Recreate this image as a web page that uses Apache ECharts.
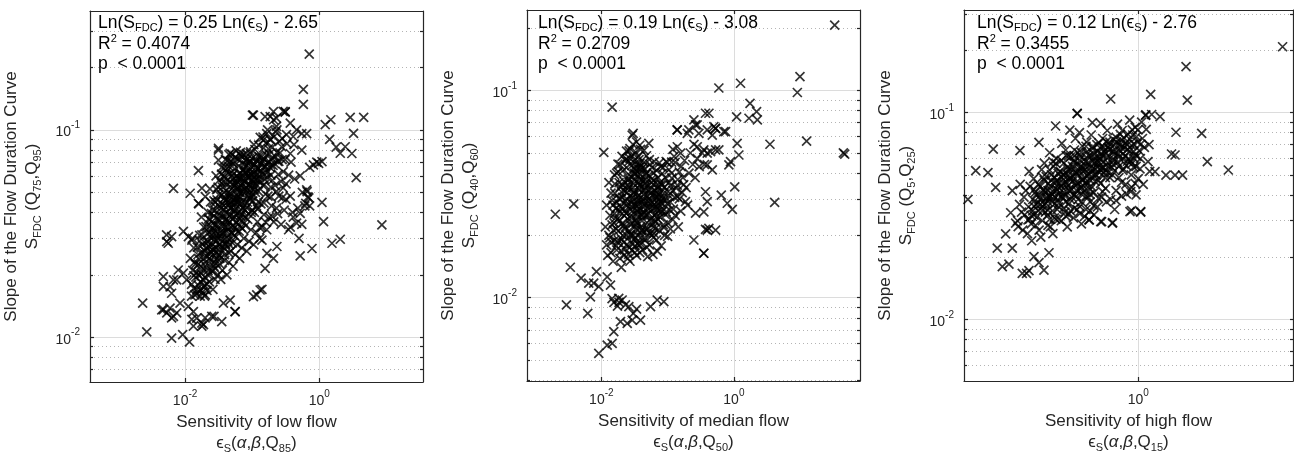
<!DOCTYPE html>
<html><head><meta charset="utf-8">
<script src="https://cdn.jsdelivr.net/npm/echarts@6/dist/echarts.min.js"></script>
<style>html,body{margin:0;padding:0;background:#fff}#c{width:1294px;height:452px}</style>
</head><body><div id="c"></div>
<script>
// ---------- tick values ----------
const xMajorTicks = [0.01, 1];
const yMajorTicks = [0.01, 0.1];
const yMinorTicks = [0.002,0.003,0.004,0.005,0.006,0.007,0.008,0.009,0.02,0.03,0.04,0.05,0.06,0.07,0.08,0.09,0.2,0.3,0.4,0.5,0.6,0.7,0.8,0.9];

// ---------- texts ----------
const xTitles = ['Sensitivity of low flow', 'Sensitivity of median flow', 'Sensitivity of high flow'];
const xQuantiles = ['85', '50', '15'];
const yQuantiles = [['75','95'], ['40','60'], ['5','25']];
const fitSlopes = ['0.25', '0.19', '0.12'];
const fitIntercepts = ['2.65', '3.08', '2.76'];
const fitR2 = ['0.4074', '0.2709', '0.3455'];
const fitP = ['0.0001', '0.0001', '0.0001'];

// ---------- data: [sensitivity, slope of FDC] ----------
const lowFlowPoints = [
[0.71,0.232],[0.58,0.157],[0.58,0.133],[0.101,0.118],[0.186,0.116],[0.311,0.122],[0.29,0.123],[0.23,0.114],[1.23,0.106],[1.49,0.112],[2.9,0.115],[4.6,0.115],[3.25,0.0963],[1.43,0.090],[1.79,0.0826],[2.06,0.0772],[2.44,0.083],[3.07,0.077],[0.82,0.0678],[0.98,0.069],[1.1,0.0703],[3.56,0.0589],[1.1,0.0447],[1.16,0.0361],[8.6,0.0348],[1.55,0.0284],[2.06,0.0297],[0.78,0.0268],[0.52,0.0247],[0.66,0.0504],[0.72,0.066],[0.65,0.0514],[0.68,0.0476],[0.63,0.0442],[0.52,0.0396],[0.41,0.038],[0.46,0.0355],[0.37,0.034],[0.55,0.035],[0.7,0.047],[0.72,0.043],[0.61,0.043],
[0.209,0.112],[0.37,0.108],[0.46,0.1],[0.41,0.093],[0.33,0.086],[0.55,0.096],[0.28,0.091],[0.23,0.104],[0.165,0.096],[0.37,0.077],[0.28,0.072],[0.65,0.096],[0.55,0.08],[0.92,0.07],
[0.1045,0.118],[0.156,0.116],[0.208,0.1225],[0.311,0.1225],[0.234,0.1],[0.186,0.0895],[0.1475,0.0895],[0.0314,0.08],[0.047,0.0772],[0.0662,0.0758],[0.0933,0.0772],[0.0314,0.0716],
[0.00233,0.0146],[0.00268,0.0106],[0.0063,0.0099],[0.0092,0.0103],[0.0116,0.0095],[0.00475,0.0136],[0.0067,0.0523],[0.0158,0.0637],[0.0315,0.0816],[0.0053,0.0312],[0.0056,0.0284],[0.0067,0.0189],[0.00475,0.0176],[0.0063,0.0124],[0.0075,0.0131],[0.0126,0.0122],[0.0188,0.0115],[0.027,0.0126],[0.0352,0.0119],[0.0557,0.0133],[0.117,0.016],[0.14,0.017],
[0.00533,0.0289],[0.0063,0.0306],[0.00944,0.0324],[0.0112,0.0306],[0.0126,0.0294],[0.0119,0.0495],[0.0178,0.0524],[0.02,0.0477],[0.0158,0.0443],
[0.00474,0.0196],[0.00597,0.0175],[0.0063,0.0163],[0.0075,0.0189],[0.00944,0.0204],[0.0106,0.0189],[0.0079,0.0211],
[0.00449,0.01355],[0.00533,0.0131],[0.0067,0.0126],[0.00597,0.0138],[0.0084,0.0146],[0.0112,0.0141],[0.0133,0.0133],[0.0149,0.01236],[0.0178,0.0117],[0.0199,0.0124],[0.025,0.0126],[0.0133,0.0113],[0.0178,0.0113],
[0.0557,0.0133],[0.1045,0.0157],[0.1315,0.0169],[0.047,0.0151],[0.0373,0.0146],
[0.156,0.0215],[0.208,0.024],[0.234,0.0274],[0.166,0.0254],[0.14,0.0294],
[0.0125,0.018],[0.013,0.021],[0.012,0.024],[0.0135,0.027],[0.014,0.016],[0.0128,0.03],[0.0138,0.023],
[0.015,0.017],[0.016,0.02],[0.017,0.022],[0.0155,0.025],[0.018,0.028],[0.0165,0.031],[0.019,0.034],[0.0175,0.038],[0.016,0.044],[0.0185,0.019],[0.019,0.024],
[0.02,0.016],[0.021,0.018],[0.022,0.021],[0.0205,0.023],[0.024,0.026],[0.0215,0.029],[0.023,0.032],[0.025,0.036],[0.022,0.04],[0.024,0.045],[0.0235,0.052],[0.025,0.021],[0.021,0.027],[0.0245,0.03],
[0.026,0.017],[0.028,0.019],[0.027,0.022],[0.03,0.024],[0.029,0.027],[0.031,0.03],[0.027,0.033],[0.032,0.037],[0.028,0.041],[0.03,0.046],[0.031,0.053],[0.029,0.06],[0.026,0.025],[0.032,0.028],[0.028,0.035],[0.031,0.02],
[0.034,0.019],[0.036,0.021],[0.033,0.024],[0.038,0.027],[0.035,0.03],[0.04,0.034],[0.037,0.038],[0.034,0.042],[0.039,0.047],[0.036,0.053],[0.038,0.059],[0.035,0.066],[0.04,0.072],[0.033,0.031],[0.039,0.025],[0.036,0.044],[0.04,0.056],
[0.042,0.02],[0.045,0.023],[0.048,0.026],[0.043,0.029],[0.05,0.032],[0.046,0.036],[0.041,0.04],[0.049,0.045],[0.044,0.05],[0.047,0.056],[0.042,0.063],[0.05,0.07],[0.045,0.076],[0.048,0.039],[0.043,0.034],[0.05,0.06],[0.046,0.028],
[0.052,0.022],[0.056,0.025],[0.06,0.028],[0.054,0.031],[0.062,0.035],[0.057,0.039],[0.053,0.043],[0.061,0.048],[0.055,0.054],[0.059,0.06],[0.063,0.067],[0.056,0.074],[0.058,0.033],[0.052,0.046],[0.062,0.052],[0.054,0.065],
[0.065,0.024],[0.07,0.027],[0.075,0.03],[0.068,0.034],[0.078,0.038],[0.072,0.042],[0.066,0.047],[0.077,0.052],[0.069,0.058],[0.074,0.064],[0.08,0.071],[0.067,0.078],[0.073,0.036],[0.079,0.045],[0.071,0.055],[0.076,0.068],
[0.083,0.026],[0.09,0.029],[0.096,0.033],[0.086,0.037],[0.1,0.041],[0.092,0.046],[0.084,0.051],[0.098,0.057],[0.088,0.063],[0.094,0.07],[0.082,0.077],[0.097,0.04],[0.089,0.054],[0.1,0.066],
[0.105,0.028],[0.115,0.032],[0.12,0.036],[0.108,0.04],[0.124,0.045],[0.112,0.05],[0.103,0.055],[0.118,0.061],[0.11,0.068],[0.122,0.075],[0.106,0.085],[0.116,0.043],[0.121,0.057],
[0.13,0.03],[0.14,0.034],[0.15,0.039],[0.135,0.044],[0.158,0.049],[0.145,0.054],[0.128,0.06],[0.155,0.067],[0.138,0.074],[0.148,0.082],[0.132,0.092],[0.152,0.058],
[0.165,0.033],[0.18,0.038],[0.195,0.043],[0.172,0.048],[0.19,0.053],[0.168,0.059],[0.185,0.066],[0.198,0.073],[0.175,0.081],[0.188,0.09],[0.17,0.1],
[0.21,0.036],[0.23,0.042],[0.25,0.048],[0.22,0.054],[0.245,0.061],[0.215,0.069],[0.235,0.078],[0.255,0.088],[0.225,0.098],
[0.27,0.035],[0.3,0.041],[0.28,0.047],[0.32,0.055],[0.29,0.063],[0.31,0.072],[0.275,0.083],[0.325,0.095],
[0.35,0.033],[0.4,0.04],[0.37,0.048],[0.43,0.058],[0.38,0.07],[0.42,0.085],
[0.5,0.03],[0.48,0.042],[0.56,0.05],[0.52,0.06],
[0.023,0.024],[0.026,0.028],[0.029,0.031],[0.033,0.028],[0.037,0.032],[0.041,0.037],[0.044,0.031],[0.047,0.042],[0.051,0.037],[0.054,0.041],[0.058,0.045],[0.063,0.05],[0.067,0.044],[0.071,0.049],[0.075,0.058],[0.081,0.053],[0.086,0.06],[0.092,0.051],[0.097,0.048],[0.105,0.062],[0.113,0.055],[0.125,0.065],[0.04,0.028],[0.048,0.034],[0.055,0.038],[0.062,0.04],[0.069,0.041],[0.032,0.025],[0.027,0.023],[0.036,0.035],[0.043,0.045],[0.06,0.056],[0.078,0.062],[0.09,0.07],[0.1,0.073],[0.135,0.07],[0.065,0.062],[0.052,0.058],[0.046,0.048],[0.038,0.05],[0.025,0.033],[0.02,0.026],
[0.0145,0.0195],[0.0158,0.0225],[0.0172,0.0255],[0.0186,0.0215],[0.0198,0.0195],[0.0212,0.0245],[0.0226,0.0275],[0.0238,0.0235],[0.0252,0.0265],[0.0268,0.0295],[0.0282,0.0325],[0.0296,0.0255],[0.0312,0.0345],[0.0328,0.0385],[0.0345,0.0275],[0.0362,0.0315],[0.0378,0.0415],[0.0395,0.0455],[0.0415,0.0325],[0.0435,0.0365],[0.0455,0.0435],[0.0478,0.0495],[0.0502,0.0545],[0.0525,0.0345],[0.055,0.0405],[0.0575,0.0465],[0.0605,0.0525],[0.0635,0.0585],[0.0665,0.0385],[0.0698,0.0445],[0.0732,0.0505],[0.0768,0.0565],[0.0805,0.0625],[0.0845,0.0425],[0.0885,0.0485],[0.093,0.0545],[0.0975,0.0605],[0.102,0.0455],[0.107,0.0515],[0.112,0.0575],[0.118,0.0645],[0.124,0.0505],[0.13,0.0565],[0.137,0.0635],[0.144,0.0705],[0.152,0.0545],[0.16,0.0625],[0.17,0.0695],[0.18,0.0765],[0.19,0.0605],[0.205,0.0675],[0.22,0.0745],[0.24,0.0705],[0.26,0.0775],[0.028,0.0215],[0.033,0.0225],[0.039,0.0235],[0.045,0.0255],[0.051,0.0285],[0.057,0.0305],[0.064,0.0325],[0.071,0.0335],[0.08,0.0345],[0.023,0.0185],[0.019,0.0175],[0.017,0.0185],[0.024,0.0345],[0.027,0.0385],[0.031,0.0435],[0.035,0.0485],[0.041,0.0545],[0.047,0.0615],[0.053,0.0685],[0.06,0.0725],[0.07,0.0745],[0.085,0.0725],[0.11,0.0805],[0.045,0.0665],[0.062,0.0445],[0.088,0.0395],[0.12,0.0415],[0.15,0.0445],[0.19,0.0475],[0.23,0.0505],[0.27,0.0565],
[0.0148,0.0205],[0.0162,0.0238],[0.0176,0.0202],[0.0192,0.0262],[0.0207,0.0218],[0.0221,0.0288],[0.0236,0.0252],[0.0251,0.0312],[0.0266,0.0268],[0.0281,0.0345],[0.0296,0.0292],[0.0312,0.0372],[0.0328,0.0318],[0.0344,0.0402],[0.0361,0.0342],[0.0379,0.0432],[0.0398,0.0368],[0.0418,0.0462],[0.0438,0.0392],[0.046,0.0492],[0.0483,0.0418],[0.0507,0.0522],[0.0532,0.0446],[0.0559,0.0556],[0.0587,0.0472],[0.0616,0.0588],[0.0647,0.0502],[0.0679,0.0618],[0.0713,0.0532],[0.0749,0.0648],[0.0786,0.0562],[0.0826,0.0678],[0.0867,0.0592],[0.091,0.0705],[0.0956,0.0622],[0.1004,0.0578],[0.105,0.0688],[0.11,0.0612],[0.116,0.0712],[0.122,0.0652],[0.128,0.0742],[0.134,0.0682],[0.141,0.0612],[0.148,0.0728],[0.156,0.0662],[0.164,0.0758],[0.172,0.0628],[0.181,0.0702],[0.19,0.0678],[0.2,0.0572],[0.0172,0.0168],[0.0195,0.0178],[0.0225,0.0198],[0.0255,0.0208],[0.029,0.0228],[0.0325,0.0248],[0.036,0.0262],[0.04,0.0282],[0.044,0.0298],[0.049,0.0318],[0.054,0.0338],[0.059,0.0358],[0.065,0.0372],[0.071,0.0392],[0.078,0.0412],[0.085,0.0448],[0.093,0.0468],[0.101,0.0492],[0.11,0.0528],[0.0215,0.0318],[0.0232,0.0368],[0.0258,0.0412],[0.0285,0.0448],[0.0318,0.0488],[0.035,0.0552],[0.0388,0.0598],[0.0425,0.0652],[0.0465,0.0702],[0.052,0.0612],[0.0575,0.0548],
[0.0125,0.0158],[0.0135,0.0172],[0.0148,0.0162],[0.0158,0.0178],[0.0168,0.0158],[0.0182,0.0165],[0.0195,0.0158],[0.0212,0.0168],[0.0135,0.0198],[0.0142,0.0225],[0.0152,0.0272],[0.0165,0.0292],[0.0178,0.0312],[0.0192,0.0288],[0.0205,0.0342],[0.0225,0.0372],[0.0248,0.0395],[0.027,0.0455],[0.0295,0.0515],[0.032,0.0572],[0.035,0.0612],[0.038,0.0655],[0.043,0.0712],[0.05,0.0765],[0.058,0.0792],[0.066,0.0715],[0.075,0.0762],[0.095,0.0785],[0.125,0.0845],[0.145,0.0925],[0.16,0.0865],[0.2,0.0825],[0.21,0.0925],[0.25,0.0705],[0.29,0.0525],[0.32,0.0462],[0.35,0.0605],[0.24,0.0395],[0.2,0.0382],[0.16,0.0358],[0.13,0.0338]
];

const medianFlowPoints = [
[33.2,0.2075],[9.93,0.117],[9.07,0.098],[1.26,0.1086],[0.593,0.103],[0.01456,0.0832],[1.75,0.0869],[2.2,0.0792],[1.69,0.0736],[2.26,0.0722],[1.1,0.0748],[0.42,0.0778],[0.249,0.0722],[0.139,0.0646],[0.209,0.0646],[0.279,0.0683],[0.528,0.0658],[0.75,0.0634],[3.5,0.0551],[12.5,0.0571],[44.9,0.0501],[47,0.0494],[1.12,0.0557],[1.19,0.0489],[0.89,0.0454],[0.84,0.0438],[1.03,0.0343],[0.645,0.0313],[0.794,0.0286],[0.946,0.0267],[4.12,0.0289],[0.53,0.0212],[0.373,0.0214],[0.35,0.0164],
[0.396,0.0646],[0.53,0.0658],[0.706,0.0634],[0.472,0.061],[0.352,0.0518],[0.445,0.0508],[0.593,0.0518],[0.396,0.0438],[0.472,0.0414],[0.373,0.0325],[0.396,0.0291],[0.352,0.026],[0.419,0.0216],
[0.00202,0.0253],[0.00383,0.0284],[0.0034,0.01403],[0.00495,0.01242],[0.00645,0.01175],[0.00297,0.00923],[0.00623,0.0084],[0.00684,0.0101],[0.00843,0.01337],[0.00767,0.01175],[0.00914,0.0113],[0.01225,0.01262],[0.01374,0.0115],
[0.00914,0.00538],[0.01225,0.0059],[0.01456,0.00602],[0.0154,0.00686],[0.01945,0.00766],[0.02455,0.00752],[0.0292,0.0078],[0.039,0.0078],[0.0231,0.00923],[0.0206,0.00975],[0.0183,0.00993],[0.026,0.00905],[0.0697,0.00975],[0.0877,0.00957],[0.0552,0.00905],
[0.01088,0.0504],[0.0292,0.061],[0.052,0.0557],[0.0302,0.0622],
[0.373,0.0778],[0.264,0.0683],[0.499,0.067],[0.14,0.0646],[0.198,0.0622],[0.296,0.0622],[0.396,0.0499],[0.53,0.0518],[0.14,0.0536],[0.157,0.0499],[0.28,0.0536],
[0.249,0.019],[0.352,0.0164],[0.396,0.0212],[0.264,0.0256],[0.186,0.0291],[0.14,0.0308],[0.078,0.0291],
[0.0175,0.0091],[0.0155,0.0095],[0.0145,0.0099],[0.0185,0.0095],[0.0304,0.0084],[0.034,0.0088],
[0.012,0.018],[0.013,0.02],[0.0115,0.022],[0.0135,0.025],[0.012,0.028],[0.014,0.032],[0.0125,0.016],[0.013,0.036],
[0.015,0.015],[0.017,0.017],[0.016,0.019],[0.018,0.021],[0.0155,0.023],[0.019,0.026],[0.017,0.029],[0.016,0.032],[0.0185,0.036],[0.017,0.04],[0.019,0.044],[0.0175,0.024],[0.0165,0.027],
[0.02,0.014],[0.022,0.016],[0.024,0.018],[0.021,0.02],[0.023,0.022],[0.025,0.024],[0.0205,0.027],[0.024,0.03],[0.022,0.033],[0.025,0.037],[0.021,0.041],[0.023,0.046],[0.024,0.051],[0.022,0.025],[0.0245,0.028],[0.021,0.035],
[0.027,0.015],[0.029,0.017],[0.031,0.019],[0.026,0.021],[0.03,0.023],[0.028,0.025],[0.032,0.028],[0.027,0.031],[0.03,0.034],[0.029,0.038],[0.031,0.042],[0.027,0.047],[0.03,0.055],[0.028,0.02],[0.032,0.022],[0.026,0.027],[0.031,0.032],
[0.034,0.016],[0.037,0.018],[0.035,0.02],[0.039,0.022],[0.033,0.024],[0.036,0.026],[0.04,0.029],[0.034,0.032],[0.038,0.035],[0.035,0.039],[0.039,0.043],[0.036,0.048],[0.034,0.044],[0.04,0.025],[0.037,0.03],
[0.042,0.017],[0.046,0.019],[0.044,0.021],[0.049,0.023],[0.043,0.026],[0.047,0.028],[0.05,0.031],[0.045,0.034],[0.041,0.037],[0.048,0.04],[0.044,0.045],[0.046,0.025],[0.042,0.03],
[0.053,0.018],[0.058,0.02],[0.062,0.022],[0.055,0.024],[0.06,0.027],[0.052,0.03],[0.064,0.033],[0.057,0.036],[0.061,0.04],[0.054,0.044],[0.059,0.029],[0.063,0.025],
[0.068,0.019],[0.075,0.021],[0.071,0.024],[0.08,0.026],[0.069,0.029],[0.077,0.032],[0.083,0.035],[0.072,0.038],[0.079,0.043],[0.074,0.028],
[0.09,0.02],[0.1,0.023],[0.095,0.026],[0.11,0.029],[0.088,0.032],[0.105,0.036],[0.115,0.04],[0.098,0.045],[0.12,0.033],
[0.13,0.025],[0.15,0.03],[0.14,0.035],[0.17,0.038],[0.16,0.043],[0.19,0.034],[0.21,0.04],[0.18,0.046],[0.24,0.044],[0.22,0.05],[0.26,0.038],[0.28,0.047],[0.3,0.043],[0.33,0.05],[0.25,0.055],[0.36,0.044],[0.2,0.028],[0.13,0.045],[0.12,0.052],[0.145,0.022],
[0.019,0.03],[0.021,0.023],[0.026,0.034],[0.028,0.029],[0.033,0.028],[0.035,0.023],[0.038,0.027],[0.041,0.021],[0.043,0.033],[0.047,0.036],[0.05,0.027],[0.056,0.032],[0.066,0.031],[0.071,0.034],[0.062,0.037],[0.024,0.02],[0.03,0.02],[0.036,0.036],[0.045,0.042],[0.052,0.039],[0.085,0.03],[0.092,0.038],[0.018,0.019],[0.015,0.028],[0.032,0.04],[0.039,0.052],
[0.0135,0.0195],[0.0145,0.0225],[0.0158,0.0255],[0.0168,0.0215],[0.0178,0.0185],[0.0188,0.0235],[0.0198,0.0275],[0.0208,0.0305],[0.0218,0.0185],[0.0228,0.0215],[0.0238,0.0255],[0.0248,0.0335],[0.0258,0.0375],[0.0268,0.0175],[0.0278,0.0225],[0.0288,0.0275],[0.0298,0.0305],[0.0308,0.0355],[0.0318,0.0395],[0.0328,0.0195],[0.0338,0.0215],[0.0348,0.0265],[0.0358,0.0295],[0.0368,0.0335],[0.0378,0.0375],[0.0388,0.0415],[0.0398,0.0195],[0.041,0.0235],[0.0425,0.0275],[0.044,0.0315],[0.0455,0.0355],[0.047,0.0395],[0.0485,0.0175],[0.05,0.0215],[0.052,0.0255],[0.054,0.0285],[0.056,0.0335],[0.058,0.0375],[0.061,0.0195],[0.064,0.0235],[0.067,0.0275],[0.07,0.0305],[0.073,0.0345],[0.077,0.0245],[0.081,0.0285],[0.086,0.0225],[0.02,0.0325],[0.022,0.0365],[0.024,0.0425],[0.026,0.0455],[0.029,0.0485],[0.033,0.0505],[0.037,0.0465],[0.042,0.0425],[0.018,0.0405],[0.016,0.0355],[0.0145,0.0295],[0.014,0.0165],[0.019,0.0155],[0.025,0.0155],[0.032,0.0165],[0.038,0.0165],[0.045,0.0195],[0.055,0.0205],[0.065,0.0215],[0.096,0.0295],[0.102,0.0325],[0.108,0.0265],
[0.0142,0.0185],[0.0152,0.0212],[0.0162,0.0242],[0.0172,0.0272],[0.0182,0.0302],[0.0192,0.0342],[0.0202,0.0192],[0.0212,0.0222],[0.0222,0.0262],[0.0232,0.0292],[0.0242,0.0322],[0.0252,0.0352],[0.0262,0.0392],[0.0272,0.0202],[0.0282,0.0242],[0.0292,0.0262],[0.0302,0.0292],[0.0312,0.0322],[0.0322,0.0372],[0.0332,0.0412],[0.0342,0.0232],[0.0352,0.0252],[0.0362,0.0282],[0.0372,0.0312],[0.0382,0.0352],[0.0392,0.0392],[0.0405,0.0212],[0.0418,0.0252],[0.0432,0.0292],[0.0448,0.0332],[0.0462,0.0372],[0.0478,0.0212],[0.0492,0.0252],[0.0508,0.0292],[0.0525,0.0332],[0.0545,0.0272],[0.0565,0.0232],[0.0585,0.0312],[0.0605,0.0352],[0.0625,0.0282],[0.0655,0.0252],[0.0685,0.0322],[0.0715,0.0262],[0.0755,0.0302],[0.0795,0.0352],[0.0845,0.0262],[0.0895,0.0342],[0.0168,0.0178],[0.0198,0.0168],[0.0228,0.0172],[0.0258,0.0162],[0.0292,0.0182],[0.0322,0.0178],[0.0352,0.0182],[0.0395,0.0182],[0.0238,0.0468],[0.0262,0.0512],[0.0288,0.0435],[0.0315,0.0462],[0.0345,0.0425],[0.0382,0.0445],[0.0158,0.0392],[0.0178,0.0442],[0.0205,0.0482],
[0.062,0.0205],[0.066,0.0232],[0.07,0.0268],[0.074,0.0315],[0.078,0.0362],[0.083,0.0398],[0.088,0.0218],[0.093,0.0252],[0.098,0.0285],[0.104,0.0312],[0.11,0.0348],[0.116,0.0378],[0.122,0.0268],[0.128,0.0305],[0.135,0.0338],[0.142,0.0372],[0.15,0.0405],[0.158,0.0262],[0.166,0.0322],[0.175,0.0352],[0.085,0.0425],[0.095,0.0455],[0.105,0.0415],[0.115,0.0452],[0.125,0.0482],[0.068,0.0412],[0.075,0.0448],[0.058,0.0425],[0.063,0.0455],[0.053,0.0465],[0.048,0.0485],[0.044,0.0515],[0.038,0.0545],[0.034,0.0565],[0.027,0.0525],[0.1,0.0198],[0.11,0.0215],[0.12,0.0238],[0.08,0.0178],[0.07,0.0168],[0.06,0.0162],[0.05,0.0158]
];

const highFlowPoints = [
[0.0198,0.0381],[0.0237,0.0524],[0.0314,0.0513],[0.0355,0.0667],[0.0375,0.0435],[0.055,0.042],[0.0656,0.0655],[0.1016,0.0719],[0.149,0.0862],[0.207,0.0824],[0.347,0.0895],[0.421,0.0888],[0.245,0.0993],[0.245,0.099],[0.53,0.1165],[1.33,0.1227],[3.0,0.167],[3.09,0.115],[27.7,0.2085],[1.19,0.0975],[1.36,0.098],[1.65,0.0957],[2.38,0.0804],[4.3,0.0794],[2.15,0.0631],[2.33,0.0624],[4.9,0.058],[7.94,0.0528],[1.89,0.0499],[2.33,0.0499],[2.77,0.0499],[1.47,0.0519],[0.857,0.0336],[1.055,0.033],[0.554,0.0294],[0.43,0.0297],[0.324,0.0303],
[0.053,0.0328],[0.0594,0.0292],[0.0472,0.0259],[0.0389,0.0221],[0.055,0.0221],[0.0437,0.018],[0.0509,0.0185],[0.0692,0.0167],[0.0807,0.0172],[0.0906,0.0201],[0.114,0.0173],[0.128,0.021],[0.1016,0.0188],[0.0764,0.0167],[0.063,0.0281],[0.079,0.0303],
[0.321,0.0303],[0.421,0.0297],[0.55,0.0292],[0.826,0.0332],[1.057,0.0332],[0.84,0.0415],
[0.062,0.03],[0.068,0.033],[0.065,0.036],[0.072,0.039],[0.07,0.027],[0.075,0.042],[0.066,0.045],[0.073,0.032],
[0.078,0.026],[0.085,0.029],[0.09,0.032],[0.08,0.035],[0.088,0.038],[0.093,0.041],[0.083,0.044],[0.09,0.048],[0.081,0.052],[0.095,0.036],[0.086,0.024],
[0.102,0.027],[0.11,0.03],[0.118,0.033],[0.105,0.036],[0.122,0.039],[0.112,0.042],[0.1,0.045],[0.12,0.049],[0.108,0.053],[0.115,0.057],[0.124,0.032],[0.106,0.025],
[0.132,0.028],[0.145,0.031],[0.155,0.034],[0.138,0.037],[0.16,0.04],[0.148,0.043],[0.135,0.047],[0.158,0.051],[0.142,0.055],[0.152,0.06],[0.13,0.064],[0.156,0.038],[0.14,0.026],
[0.17,0.03],[0.185,0.033],[0.2,0.036],[0.175,0.039],[0.205,0.042],[0.19,0.045],[0.168,0.049],[0.198,0.053],[0.18,0.057],[0.21,0.061],[0.188,0.066],[0.172,0.071],[0.195,0.028],[0.208,0.048],
[0.225,0.031],[0.245,0.034],[0.27,0.037],[0.23,0.04],[0.26,0.043],[0.28,0.047],[0.24,0.051],[0.265,0.055],[0.228,0.059],[0.25,0.064],[0.275,0.069],[0.235,0.075],[0.258,0.08],[0.27,0.029],
[0.3,0.034],[0.33,0.037],[0.36,0.041],[0.31,0.045],[0.345,0.049],[0.295,0.053],[0.365,0.057],[0.32,0.062],[0.35,0.067],[0.305,0.072],[0.338,0.078],[0.36,0.032],[0.315,0.039],
[0.39,0.035],[0.43,0.039],[0.47,0.043],[0.4,0.047],[0.45,0.051],[0.5,0.055],[0.41,0.06],[0.46,0.065],[0.385,0.07],[0.44,0.075],[0.49,0.082],[0.48,0.037],
[0.53,0.038],[0.6,0.042],[0.68,0.046],[0.55,0.05],[0.64,0.055],[0.7,0.06],[0.57,0.065],[0.66,0.07],[0.6,0.076],[0.69,0.082],[0.62,0.088],[0.58,0.034],
[0.75,0.045],[0.85,0.05],[0.95,0.055],[0.8,0.06],[0.9,0.065],[0.78,0.07],[0.98,0.072],[0.88,0.078],[0.93,0.085],[0.82,0.092],[1.0,0.048],[0.95,0.04],
[1.05,0.06],[1.15,0.068],[1.1,0.075],[1.2,0.083],[1.08,0.09],[1.25,0.058],[1.3,0.052],[1.12,0.045],[1.18,0.097],[1.28,0.07],
[0.095,0.04],[0.105,0.044],[0.115,0.047],[0.125,0.042],[0.135,0.05],[0.15,0.046],[0.165,0.052],[0.18,0.041],[0.2,0.05],[0.22,0.055],[0.24,0.046],[0.26,0.059],[0.28,0.052],[0.3,0.058],[0.33,0.054],[0.36,0.063],[0.4,0.058],[0.44,0.062],[0.5,0.068],[0.55,0.059],[0.17,0.044],[0.21,0.038],[0.25,0.038],[0.29,0.042],[0.34,0.044],[0.38,0.05],[0.42,0.053],[0.13,0.039],[0.115,0.036],[0.16,0.035],[0.63,0.063],[0.72,0.068],[0.52,0.072],[0.23,0.066],[0.19,0.062],[0.14,0.058],
[0.082,0.0305],[0.088,0.0335],[0.094,0.0285],[0.098,0.0365],[0.103,0.0395],[0.109,0.0335],[0.113,0.0425],[0.119,0.0365],[0.126,0.0455],[0.133,0.0395],[0.139,0.0335],[0.146,0.0485],[0.153,0.0425],[0.161,0.0365],[0.169,0.0515],[0.177,0.0455],[0.186,0.0395],[0.196,0.0545],[0.206,0.0485],[0.216,0.0425],[0.227,0.0575],[0.238,0.0515],[0.25,0.0455],[0.262,0.0615],[0.275,0.0545],[0.289,0.0485],[0.303,0.0645],[0.318,0.0575],[0.334,0.0515],[0.351,0.0685],[0.368,0.0605],[0.386,0.0545],[0.405,0.0715],[0.425,0.0635],[0.446,0.0575],[0.468,0.0485],[0.49,0.0605],[0.515,0.0665],[0.54,0.0545],[0.565,0.0625],[0.59,0.0705],[0.62,0.0575],[0.65,0.0655],[0.68,0.0735],[0.71,0.0535],[0.745,0.0615],[0.78,0.0665],[0.82,0.0745],[0.86,0.0565],[0.9,0.0705],[0.94,0.0625],[0.14,0.0415],[0.16,0.0455],[0.18,0.0495],[0.2,0.0445],[0.22,0.0465],[0.25,0.0505],[0.28,0.0445],[0.31,0.0495],[0.35,0.0535],[0.39,0.0565],[0.12,0.0385],[0.1,0.0335],[0.091,0.0425],[0.125,0.0285],[0.15,0.0305],[0.18,0.0345],[0.21,0.0335],[0.24,0.0395],[0.27,0.0405],[0.3,0.0395],[0.33,0.0425],[0.37,0.0465],[0.42,0.0455],[0.47,0.0525],
[0.085,0.0318],[0.091,0.0352],[0.097,0.0312],[0.104,0.0382],[0.111,0.0352],[0.117,0.0412],[0.124,0.0372],[0.131,0.0442],[0.138,0.0402],[0.146,0.0362],[0.154,0.0472],[0.162,0.0432],[0.171,0.0392],[0.18,0.0502],[0.19,0.0462],[0.2,0.0422],[0.211,0.0532],[0.222,0.0492],[0.234,0.0442],[0.246,0.0562],[0.259,0.0522],[0.272,0.0472],[0.286,0.0592],[0.301,0.0552],[0.317,0.0502],[0.333,0.0622],[0.35,0.0582],[0.368,0.0532],[0.387,0.0652],[0.407,0.0612],[0.428,0.0542],[0.45,0.0682],[0.473,0.0632],[0.497,0.0572],[0.522,0.0702],[0.549,0.0652],[0.577,0.0592],[0.607,0.0722],[0.638,0.0612],[0.671,0.0682],[0.705,0.0632],[0.741,0.0712],[0.779,0.0582],[0.819,0.0652],[0.861,0.0692],[0.905,0.0602],[0.125,0.0338],[0.145,0.0392],[0.165,0.0412],[0.19,0.0372],[0.215,0.0392],[0.24,0.0422],[0.27,0.0432],[0.3,0.0462],[0.33,0.0472],[0.37,0.0502],[0.41,0.0512],[0.45,0.0542],[0.5,0.0512],[0.56,0.0562],[0.11,0.0488],[0.13,0.0528],[0.15,0.0568],[0.17,0.0588],[0.2,0.0618],[0.23,0.0618],[0.27,0.0642],[0.3,0.0688],[0.2,0.0322],[0.26,0.0352],[0.33,0.0402],
[0.52,0.0485],[0.58,0.0525],[0.64,0.0485],[0.7,0.0525],[0.76,0.0555],[0.83,0.0585],[0.9,0.0545],[0.97,0.0615],[1.02,0.0655],[1.06,0.0705],[0.96,0.0765],[0.87,0.0825],[0.79,0.0785],[0.72,0.0755],[0.66,0.0785],[0.56,0.0745],[0.48,0.0725],[0.43,0.0685],[0.99,0.0825],[1.04,0.0535],[0.93,0.0455],[0.86,0.0435],[0.76,0.0405],[0.68,0.0395],[0.6,0.0375],[0.44,0.0415],[0.4,0.0385],[0.36,0.0355],[0.33,0.0335],[0.29,0.0315],[0.26,0.0325],[0.23,0.0345],[0.19,0.0315],[0.16,0.0305],[0.13,0.0305]
];

// ---------- layout (pixels) and axis ranges ----------
const panelLayout = [
  {left: 90,  top: 11, width: 333, height: 371, xMin: 0.000382, xMax: 35.3, yMin: 0.00608, yMax: 0.375, note: 98},
  {left: 527, top: 10, width: 333, height: 371, xMin: 0.000755, xMax: 80.0, yMin: 0.00396, yMax: 0.2453, note: 538},
  {left: 964, top: 10, width: 329, height: 371, xMin: 0.0181,   xMax: 35.2, yMin: 0.00503, yMax: 0.314, note: 977}
];
const panelData = [lowFlowPoints, medianFlowPoints, highFlowPoints];

const FONT = '"Liberation Sans", Arial, Helvetica, sans-serif';
const INK = '#262626';

const richTick = {
  b: {fontSize: 14, lineHeight: 19, verticalAlign: 'bottom', color: INK, fontFamily: FONT},
  e: {fontSize: 10, lineHeight: 10, verticalAlign: 'top', color: INK, fontFamily: FONT}
};
const richName = {
  t: {fontSize: 17, lineHeight: 21, color: INK, fontFamily: FONT},
  i: {fontSize: 17, lineHeight: 21, color: INK, fontFamily: FONT, fontStyle: 'italic'},
  sub: {fontSize: 11, lineHeight: 8, verticalAlign: 'bottom', color: INK, fontFamily: FONT}
};
const richNote = {
  t: {fontSize: 17.5, lineHeight: 20.5, color: '#000', fontFamily: FONT},
  sub: {fontSize: 11, lineHeight: 8, verticalAlign: 'bottom', color: '#000', fontFamily: FONT},
  sup: {fontSize: 11, lineHeight: 10, verticalAlign: 'top', color: '#000', fontFamily: FONT}
};

function tickFormatter(v) {
  const ex = Math.round(Math.log10(v));
  return '{b|10}{e|' + ex + '}';
}

const option = {
  animation: false,
  backgroundColor: '#ffffff',
  textStyle: {fontFamily: FONT},
  grid: [], xAxis: [], yAxis: [], series: [], title: []
};

panelLayout.forEach((p, i) => {
  option.grid.push({left: p.left, top: p.top, width: p.width, height: p.height, containLabel: false, outerBoundsMode: 'none'});
  const xName = '{t|' + xTitles[i] + '}\n{t|\u03F5}{sub|S}{t|(}{i|\u03B1}{t|,}{i|\u03B2}{t|,Q}{sub|' + xQuantiles[i] + '}{t|)}';
  const yName = '{t|Slope of the Flow Duration Curve}\n{t|S}{sub|FDC}{t| (Q}{sub|' + yQuantiles[i][0] + '}{t|,Q}{sub|' + yQuantiles[i][1] + '}{t|)}';
  const lineStyle = {color: INK, width: 1.2};
  option.xAxis.push({
    type: 'log', logBase: 10, gridIndex: i, position: 'bottom', min: p.xMin, max: p.xMax,
    axisLine: {show: true, lineStyle},
    axisTick: {show: true, inside: true, length: 4, customValues: xMajorTicks, lineStyle},
    axisLabel: {show: true, margin: 7, fontSize: 14, customValues: xMajorTicks, formatter: tickFormatter, rich: richTick},
    splitLine: {show: true, lineStyle: {color: '#dcdcdc', width: 1}},
    name: xName, nameLocation: 'middle', nameGap: 30,
    nameTextStyle: {rich: richName, align: 'center', fontSize: 17}
  });
  option.xAxis.push({
    type: 'log', logBase: 10, gridIndex: i, position: 'top', min: p.xMin, max: p.xMax,
    axisLine: {show: true, lineStyle},
    axisTick: {show: true, inside: true, length: 4, customValues: xMajorTicks, lineStyle},
    axisLabel: {show: false}, splitLine: {show: false}
  });
  option.yAxis.push({
    type: 'log', logBase: 10, gridIndex: i, position: 'left', min: p.yMin, max: p.yMax,
    axisLine: {show: true, lineStyle},
    axisTick: {show: true, inside: true, length: 4, customValues: yMajorTicks, lineStyle},
    axisLabel: {show: true, margin: 10, fontSize: 14, customValues: yMajorTicks, formatter: tickFormatter, rich: richTick},
    splitLine: {show: true, lineStyle: {color: '#dcdcdc', width: 1}},
    name: yName, nameLocation: 'middle', nameGap: 47, nameRotate: 90,
    nameTextStyle: {rich: richName, align: 'center', fontSize: 17}
  });
  option.yAxis.push({
    type: 'log', logBase: 10, gridIndex: i, position: 'left', min: p.yMin, max: p.yMax,
    axisLine: {show: false},
    axisTick: {show: true, inside: true, length: 3, customValues: yMinorTicks, lineStyle},
    axisLabel: {show: false},
    splitLine: {show: true, lineStyle: {color: '#b4b4b4', width: 1, type: [1, 3]}}
  });
  option.yAxis.push({
    type: 'log', logBase: 10, gridIndex: i, position: 'right', min: p.yMin, max: p.yMax,
    axisLine: {show: true, lineStyle},
    axisTick: {show: true, inside: true, length: 3, customValues: yMajorTicks.concat(yMinorTicks), lineStyle},
    axisLabel: {show: false}, splitLine: {show: false}
  });
  option.series.push({
    type: 'scatter', xAxisIndex: 2 * i, yAxisIndex: 3 * i, data: panelData[i],
    symbol: 'path://M0,0L10,10M10,0L0,10', symbolSize: 9, silent: true,
    itemStyle: {color: 'rgba(0,0,0,0)', borderColor: '#000', borderWidth: 1.7}
  });
  option.title.push({
    left: p.note, top: 13, padding: 0,
    text: '{t|Ln(S}{sub|FDC}{t|) = ' + fitSlopes[i] + ' Ln(\u03F5}{sub|S}{t|) - ' + fitIntercepts[i] + '}\n' +
          '{t|R}{sup|2}{t| = ' + fitR2[i] + '}\n' +
          '{t|p  < ' + fitP[i] + '}',
    textStyle: {rich: richNote, fontSize: 17.5, fontWeight: 'normal', lineHeight: 20.5}
  });
});

const chart = echarts.init(document.getElementById('c'), null, {renderer: 'canvas'});
chart.setOption(option);
</script>
</body></html>
